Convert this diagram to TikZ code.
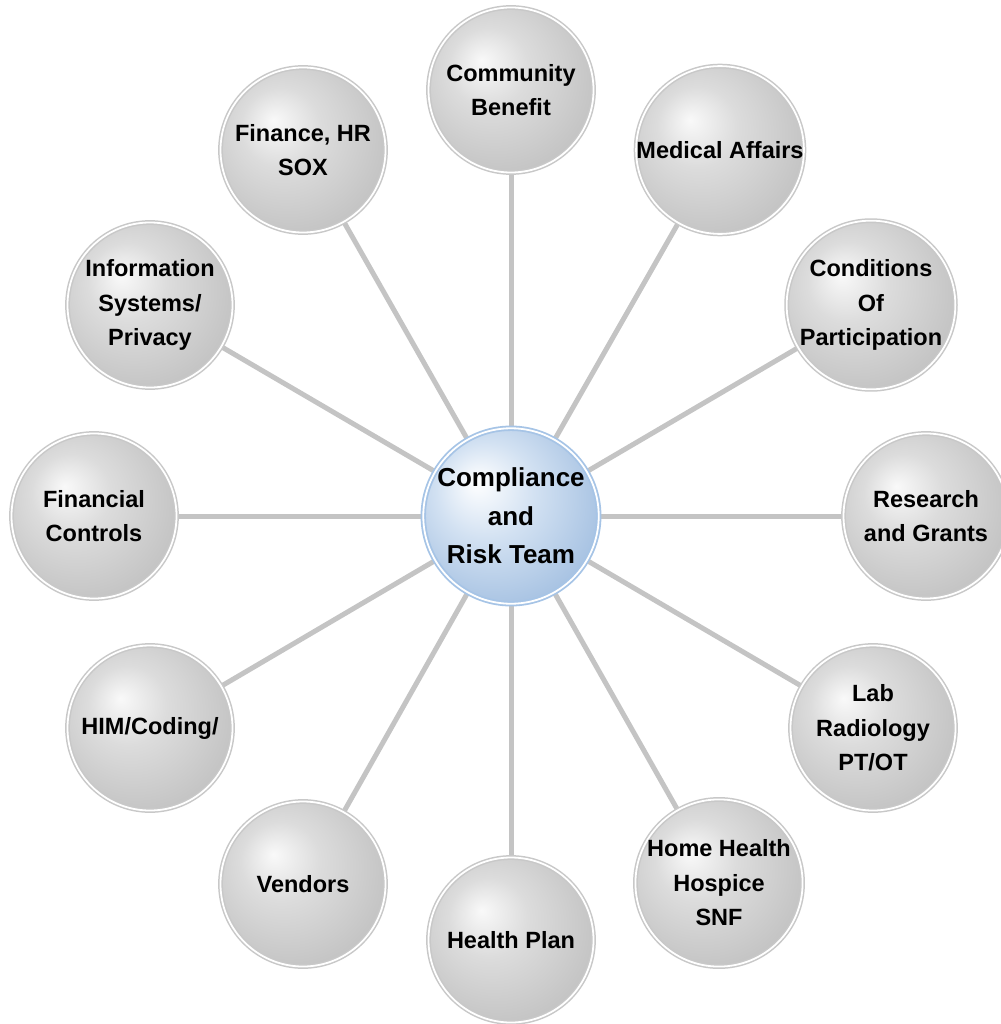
\documentclass[tikz,border=0pt]{standalone}
\usepackage{fontspec}
\setmainfont{Liberation Sans}
\usetikzlibrary{backgrounds}
\definecolor{ballA}{HTML}{F9F9F9}
\definecolor{ballB}{HTML}{DCDCDC}
\definecolor{ballC}{HTML}{BBBBBB}
\definecolor{hubA}{HTML}{FFFFFF}
\definecolor{hubB}{HTML}{D2E1F2}
\definecolor{hubC}{HTML}{93B4DB}
\definecolor{ringgrey}{HTML}{C8C8C8}
\definecolor{ringblue}{HTML}{A6C4E6}
\definecolor{spokegrey}{HTML}{C4C4C4}
\pgfdeclareradialshading{greyball}{\pgfpoint{-9bp}{9bp}}{color(0bp)=(ballA); color(12bp)=(ballB); color(36bp)=(ballC); color(50bp)=(ballC)}
\pgfdeclareradialshading{blueball}{\pgfpoint{-10bp}{10bp}}{color(0bp)=(hubA); color(14bp)=(hubB); color(38bp)=(hubC); color(50bp)=(hubC)}
\begin{document}
\begin{tikzpicture}[x=1pt, y=-1pt,
  topic/.style={circle, minimum size=165pt, inner sep=0pt, shade, shading=greyball, draw=ringgrey, line width=1.5pt, double=white, double distance=1.8pt, align=center, font=\fontsize{23.5}{34.5}\selectfont\bfseries},
  hubnode/.style={circle, minimum size=172pt, inner sep=0pt, shade, shading=blueball, draw=ringblue, line width=1.8pt, double=white, double distance=1.8pt, align=center, font=\fontsize{26}{38.5}\selectfont\bfseries},
  spoke/.style={spokegrey, line width=5pt}]
\useasboundingbox (0,0) rectangle (1000,1024);
\node[hubnode] (hub) at (511,516) {Compliance\\and\\Risk Team};
\node[topic] (cb) at (511,90) {Community\\Benefit};
\node[topic] (ma) at (720,150) {Medical Affairs};
\node[topic] (cop) at (871,305) {Conditions\\Of\\Participation};
\node[topic] (rg) at (926,516) {Research\\and Grants};
\node[topic] (lab) at (873,728) {Lab\\Radiology\\PT/OT};
\node[topic] (hh) at (719,883) {Home Health\\Hospice\\SNF};
\node[topic] (hp) at (511,940) {Health Plan};
\node[topic] (ven) at (303,884) {Vendors};
\node[topic] (him) at (150,728) {HIM/Coding/};
\node[topic] (fc) at (94,516) {Financial\\Controls};
\node[topic] (isp) at (150,305) {Information\\Systems/\\Privacy};
\node[topic] (fin) at (303,150) {Finance, HR\\SOX};
\begin{scope}[on background layer]
\draw[spoke] (hub.center) -- (cb.center);
\draw[spoke] (hub.center) -- (ma.center);
\draw[spoke] (hub.center) -- (cop.center);
\draw[spoke] (hub.center) -- (rg.center);
\draw[spoke] (hub.center) -- (lab.center);
\draw[spoke] (hub.center) -- (hh.center);
\draw[spoke] (hub.center) -- (hp.center);
\draw[spoke] (hub.center) -- (ven.center);
\draw[spoke] (hub.center) -- (him.center);
\draw[spoke] (hub.center) -- (fc.center);
\draw[spoke] (hub.center) -- (isp.center);
\draw[spoke] (hub.center) -- (fin.center);
\end{scope}
\end{tikzpicture}
\end{document}
